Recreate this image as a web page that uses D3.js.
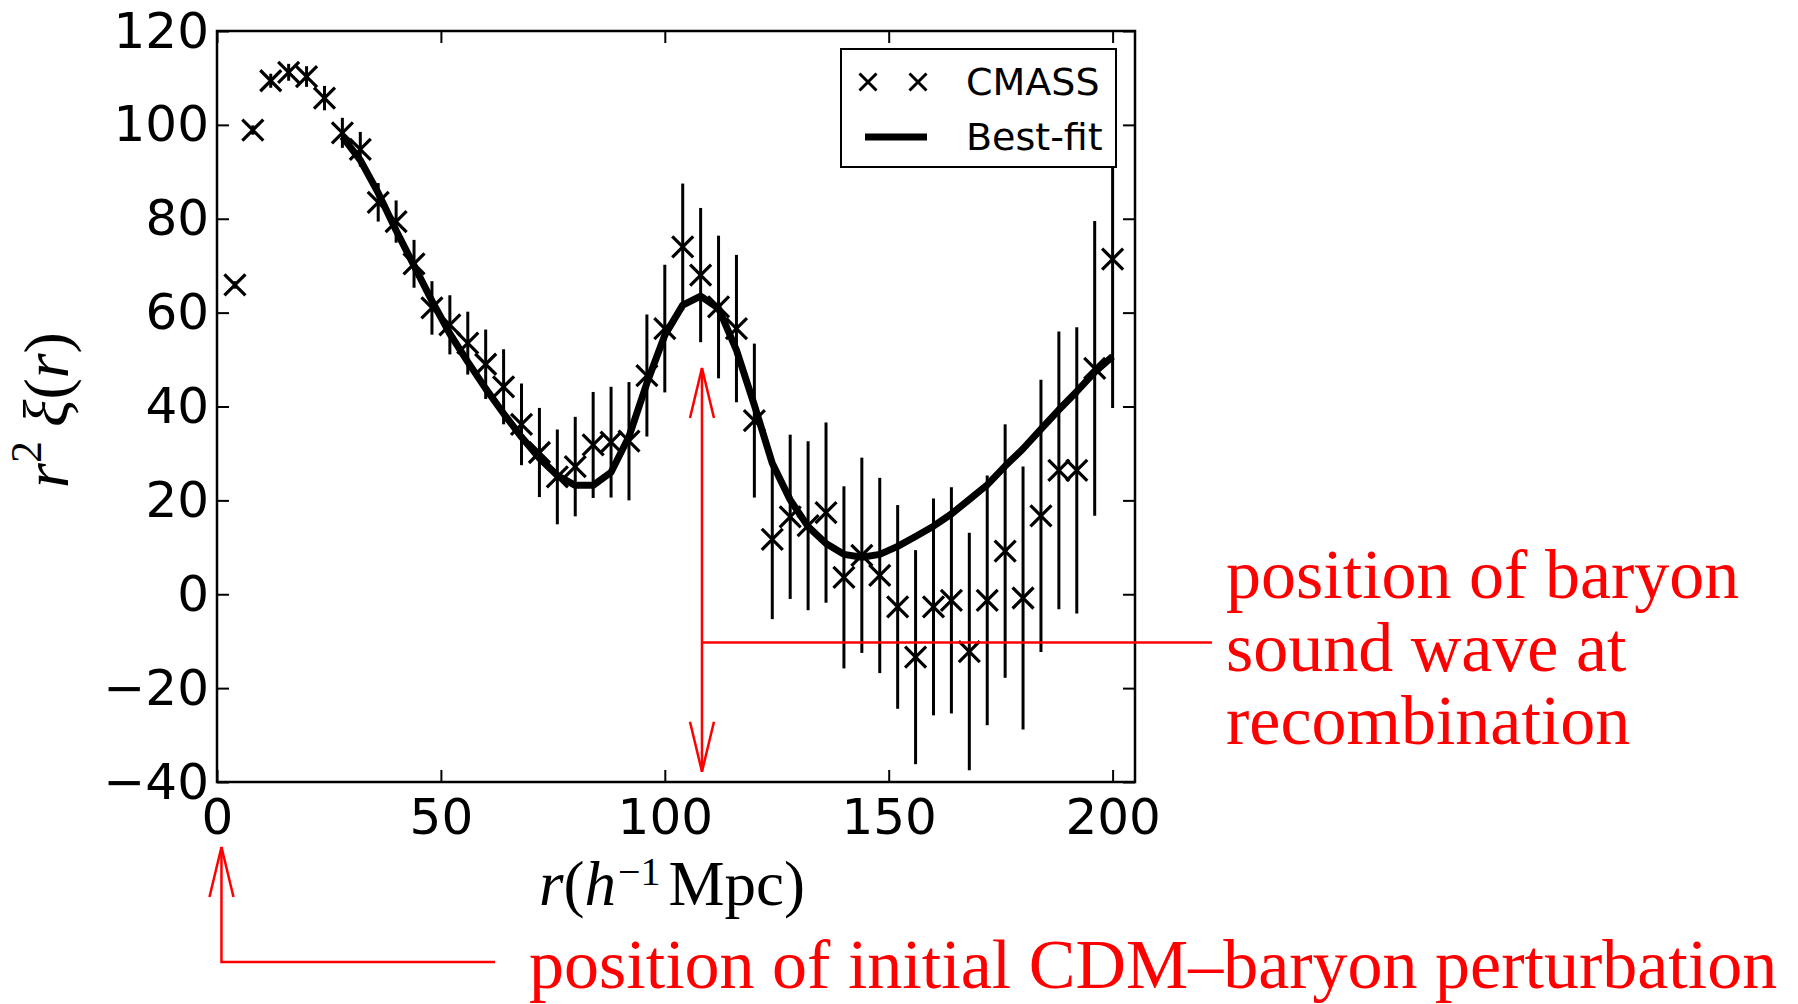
<!DOCTYPE html>
<html>
<head>
<meta charset="utf-8">
<script src="https://cdn.jsdelivr.net/npm/d3@7"></script>
<style>
  body { margin: 0; background: #fff; }
</style>
</head>
<body>
<svg id="chart" width="1798" height="1004"></svg>
<script>
// CMASS correlation function, r^2 xi(r)
const rBins = [4, 8, 12, 16, 20, 24, 28, 32, 36, 40, 44, 48, 52, 56, 60, 64, 68, 72, 76, 80,
  84, 88, 92, 96, 100, 104, 108, 112, 116, 120, 124, 128, 132, 136, 140, 144, 148, 152, 156, 160,
  164, 168, 172, 176, 180, 184, 188, 192, 196, 200]
const xiData = [65.9, 98.9, 109.4, 111.2, 110.3, 105.7, 98.3, 94.8, 83.5, 79.4, 70.4, 61, 57.4, 53.5, 49, 44.2, 36.2, 30.2, 25, 27.2,
  31.8, 32.4, 32.6, 46.6, 56.6, 74, 68, 61.2, 56.6, 37, 11.7, 16.5, 14.6, 17.4, 3.6, 8.3, 4, -2.7, -13.4, -2.7,
  -1.3, -12.2, -1.3, 9.2, -0.8, 16.7, 26.4, 26.4, 48.1, 71.4]
const xiErr = [0.8, 1, 1.5, 1.8, 2.2, 2.6, 3.2, 3.7, 4.1, 4.5, 5.1, 5.7, 6.3, 6.7, 7.4, 8, 8.7, 9.5, 10.1, 10.6,
  11.3, 11.8, 12.6, 13, 13.6, 13.5, 14.3, 15.2, 15.7, 16.4, 17, 17.5, 18, 19.2, 19.4, 20.8, 20.8, 21.7, 22.8, 23.1,
  24.1, 25.3, 26.6, 27, 28, 29, 29.6, 30.5, 31.4, 31.7]

// best-fit model
const fitR = [28, 32, 36, 40, 44, 48, 52, 56, 60, 64, 68, 72, 76, 80, 84, 88, 92, 96, 100, 104,
  108, 112, 116, 120, 124, 128, 132, 136, 140, 144, 148, 152, 156, 160, 164, 168, 172, 176, 180, 184,
  188, 192, 196, 200]
const fitXi = [97.5, 92.5, 85.5, 77.5, 70, 62.5, 55.5, 49.5, 43.8, 38.5, 33.5, 29, 25.3, 23.2, 23.2, 26, 33.6, 45, 55.2, 61.6,
  63.5, 60.9, 52, 40.3, 27.9, 20.1, 14.4, 10.8, 8.5, 7.9, 8.5, 10.2, 12.3, 14.5, 17.1, 20.2, 23.3, 27.3, 31, 35.2,
  39.3, 43.2, 47.3, 50.7]

const xTicks = [0, 50, 100, 150, 200]
const yTicks = [-40, -20, 0, 20, 40, 60, 80, 100, 120]

const svg = d3.select("#chart")
const x = d3.scaleLinear().domain([0, 205]).range([217, 1135])
const y = d3.scaleLinear().domain([-40, 120]).range([782, 31])

const tickFont = "'DejaVu Sans', sans-serif"
const serif = "'Liberation Serif', 'Times New Roman', serif"

function styleAxis(g) {
  g.select(".domain").remove()
  g.selectAll(".tick line").attr("stroke", "#000").attr("stroke-width", 2)
  g.selectAll(".tick text").attr("fill", "#000")
  g.attr("font-size", 50).attr("font-family", tickFont)
}

svg.append("g").attr("transform", "translate(0,782)")
  .call(d3.axisBottom(x).tickValues(xTicks).tickSize(-12).tickPadding(16))
  .call(styleAxis)
svg.append("g").attr("transform", "translate(0,31)")
  .call(d3.axisTop(x).tickValues(xTicks).tickSize(-12).tickFormat(""))
  .call(styleAxis)
svg.append("g").attr("transform", "translate(217,0)")
  .call(d3.axisLeft(y).tickValues(yTicks).tickSize(-12).tickPadding(8))
  .call(styleAxis)
svg.append("g").attr("transform", "translate(1135,0)")
  .call(d3.axisRight(y).tickValues(yTicks).tickSize(-12).tickFormat(""))
  .call(styleAxis)

svg.append("rect")
  .attr("x", x(0)).attr("y", y(120))
  .attr("width", x(205) - x(0)).attr("height", y(-40) - y(120))
  .attr("fill", "none").attr("stroke", "#000").attr("stroke-width", 2.5)

// error bars
const pts = rBins.map((r, i) => ({ r: r, v: xiData[i], e: xiErr[i] }))
svg.append("g").selectAll("line").data(pts).enter().append("line")
  .attr("x1", d => x(d.r)).attr("x2", d => x(d.r))
  .attr("y1", d => y(d.v - d.e)).attr("y2", d => y(d.v + d.e))
  .attr("stroke", "#000").attr("stroke-width", 3)

const cross = "M-10.5,-10.5L10.5,10.5M-10.5,10.5L10.5,-10.5"
svg.append("g").selectAll("path").data(pts).enter().append("path")
  .attr("d", cross)
  .attr("transform", d => "translate(" + x(d.r) + "," + y(d.v) + ")")
  .attr("fill", "none").attr("stroke", "#000").attr("stroke-width", 3.2)

// best-fit curve
const line = d3.line().x(d => x(d[0])).y(d => y(d[1]))
svg.append("path")
  .datum(fitR.map((r, i) => [r, fitXi[i]]))
  .attr("d", line)
  .attr("fill", "none").attr("stroke", "#000").attr("stroke-width", 7)
  .attr("stroke-linejoin", "round")

// legend
const lg = svg.append("g")
lg.append("rect").attr("x", 841).attr("y", 49).attr("width", 275).attr("height", 118)
  .attr("fill", "#fff").attr("stroke", "#000").attr("stroke-width", 2)
lg.selectAll("path.m").data([868, 918]).enter().append("path").attr("class", "m")
  .attr("d", "M-8.5,-8.5L8.5,8.5M-8.5,8.5L8.5,-8.5")
  .attr("transform", d => "translate(" + d + ",82)")
  .attr("stroke", "#000").attr("stroke-width", 3)
lg.append("line").attr("x1", 865).attr("x2", 927).attr("y1", 137).attr("y2", 137)
  .attr("stroke", "#000").attr("stroke-width", 7)
lg.append("text").attr("x", 966).attr("y", 95).text("CMASS")
  .attr("font-family", tickFont).attr("font-size", 38)
lg.append("text").attr("x", 966).attr("y", 150).text("Best-fit")
  .attr("font-family", tickFont).attr("font-size", 38)

// axis labels
const xl = svg.append("text").attr("x", 672).attr("y", 905)
  .attr("text-anchor", "middle").attr("font-family", serif).attr("font-size", 63)
xl.append("tspan").attr("font-style", "italic").text("r")
xl.append("tspan").text("(")
xl.append("tspan").attr("font-style", "italic").text("h")
xl.append("tspan").attr("font-size", 40).attr("dy", -20).attr("dx", 2).text("−1")
xl.append("tspan").attr("dy", 20).attr("dx", 8).text("Mpc)")

const yl = svg.append("text")
  .attr("transform", "translate(68,410) rotate(-90)")
  .attr("text-anchor", "middle").attr("font-family", serif).attr("font-size", 64)
yl.append("tspan").attr("font-style", "italic").text("r")
yl.append("tspan").attr("font-size", 44).attr("dy", -27).text("2")
yl.append("tspan").attr("dy", 27).attr("dx", 14).attr("font-style", "italic").text("ξ")
yl.append("tspan").text("(")
yl.append("tspan").attr("font-style", "italic").text("r")
yl.append("tspan").text(")")

// red annotations
const red = "#ff0000"
const ann = svg.append("g").attr("stroke", red).attr("stroke-width", 2.5).attr("fill", "none")
const ax = x(108.3)
ann.append("line").attr("x1", ax).attr("x2", ax).attr("y1", y(48.2)).attr("y2", y(-37.8))
ann.append("path").attr("d", "M" + (ax - 12) + "," + (y(48.2) + 50) + "L" + ax + "," + y(48.2) + "L" + (ax + 12) + "," + (y(48.2) + 50))
ann.append("path").attr("d", "M" + (ax - 12) + "," + (y(-37.8) - 50) + "L" + ax + "," + y(-37.8) + "L" + (ax + 12) + "," + (y(-37.8) - 50))
ann.append("line").attr("x1", ax).attr("x2", 1212).attr("y1", y(-10.3)).attr("y2", y(-10.3))

const bx = x(1)
ann.append("path").attr("d", "M" + bx + ",847L" + bx + ",962L495,962")
ann.append("path").attr("d", "M" + (bx - 12) + ",897L" + bx + ",847L" + (bx + 12) + ",897")

const annText = ["position of baryon", "sound wave at", "recombination"]
svg.append("g").selectAll("text").data(annText).enter().append("text")
  .attr("x", 1226).attr("y", (d, i) => 598 + i * 73)
  .attr("font-family", serif).attr("font-size", 70).attr("fill", red)
  .text(d => d)
svg.append("text").attr("x", 529).attr("y", 988)
  .attr("font-family", serif).attr("font-size", 70).attr("fill", red)
  .text("position of initial CDM–baryon perturbation")
</script>
</body>
</html>
